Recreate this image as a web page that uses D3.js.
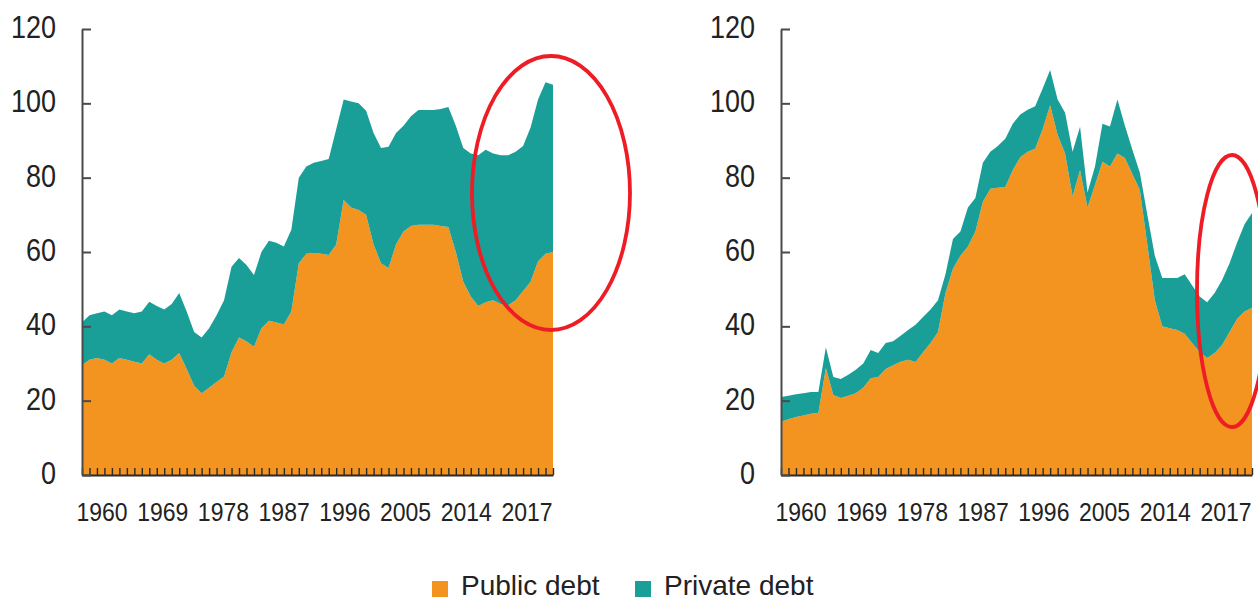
<!DOCTYPE html>
<html>
<head>
<meta charset="utf-8">
<script src="https://cdn.jsdelivr.net/npm/d3@7"></script>
<style>
  html, body { margin: 0; padding: 0; background: #fff; }
  svg { display: block; }
  text { font-family: "Liberation Sans", Arial, sans-serif; fill: #222; }
</style>
</head>
<body>
<svg id="chart" width="1258" height="601"></svg>
<script>
// ---- data ----
const years = d3.range(1957, 2021);

const leftPublic = [29.5,31,31.5,31,30,31.5,31,30.5,30,32.5,31,30,31,32.8,28.5,24,22,23.5,25,26.5,
  33,37,36,34.5,39.5,41.5,41,40.5,44,57,59.5,59.7,59.5,59.2,62,74,72,71.3,70,62,
  57,55.7,62,65.5,67,67.3,67.3,67.3,67,66.7,60,52,48,45.5,46.5,47,46,45.7,47,49.5,
  52,57.5,59.5,60];
const leftPrivate = [11.5,12,12,13,13,13,13,13,14,14.1,14.5,14.5,15,16.2,15.5,14.5,15,16,18,20.5,
  23,21.4,20.5,19.3,20.5,21.5,21.5,21,22,23,23.5,24.3,25,25.8,31,27,28.5,28.7,28,30,
  31,32.6,30,28.5,29.5,30.9,30.9,30.9,31.5,32.3,34,36,38.5,40.5,41,39.5,40,40.3,40,39,
  41.5,43.5,46.2,45];

const rightPublic = [14.3,15,15.6,16,16.5,16.7,28.8,21.5,20.7,21.3,22,23.5,26,26.4,28.5,29.5,30.5,31,30.4,33,
  35.5,38.5,49,55.5,59,61.5,65.5,73.5,77,77.3,77.5,82,85.5,87,87.8,93,99.5,91.5,86.5,75,
  82,72,78,84.3,83,86.5,85.3,81,76.7,62,47,40,39.5,39,38,35.5,33,31.5,32.8,35,
  38.5,42,44,45];
const rightPrivate = [6.7,6.3,6.1,6,5.8,5.6,5.6,4.9,5.1,5.7,6.3,6.5,7.6,6.4,7,6.5,7,8,10,9.5,
  9,8.5,5,8,6.5,10.5,9,10.5,10,11.2,13,12.5,11.5,11.3,11.4,11,9.5,9.5,11,12,
  11.7,4,5,10.2,10.8,14.5,8.7,6.5,4.6,8,12,13,13.5,14,16,15.5,15,15,16.2,17.5,
  18.5,20.5,23.5,25.5];

const seriesNames = ["Public debt", "Private debt"];
const seriesColors = ["#F39320", "#1A9E98"];
const xTickLabels = ["1960","1969","1978","1987","1996","2005","2014","2017"];
const yTicks = [0, 20, 40, 60, 80, 100, 120];

// ---- layout ----
const svg = d3.select("#chart");
const yTop = 29, yBottom = 475;
const panels = [
  { x0: 82, x1: 553, pub: leftPublic, priv: leftPrivate, ell: { cx: 551, cy: 193, rx: 79, ry: 137 } },
  { x0: 781, x1: 1252, pub: rightPublic, priv: rightPrivate, ell: { cx: 1232, cy: 291, rx: 35, ry: 136 } }
];

const y = d3.scaleLinear().domain([0, 120]).range([yBottom, yTop]);
const stretch = 1.15;

panels.forEach(p => {
  const g = svg.append("g");
  const x = d3.scaleLinear().domain([years[0], years[years.length - 1]]).range([p.x0, p.x1]);
  const rows = years.map((yr, i) => ({ year: yr, pub: p.pub[i], priv: p.priv[i] }));
  const stack = d3.stack().keys(["pub", "priv"])(rows);

  const area = d3.area()
    .x(d => x(d.data.year))
    .y0(d => y(d[0]))
    .y1(d => y(d[1]));

  g.selectAll("path.area").data(stack).join("path")
    .attr("class", "area")
    .attr("d", area)
    .attr("fill", (d, i) => seriesColors[i]);

  // x axis: baseline with small upward ticks at each year
  const xAxis = d3.axisBottom(x).tickValues(years).tickSizeInner(-7).tickSizeOuter(0).tickFormat("");
  const xa = g.append("g").attr("transform", `translate(0,${yBottom})`).call(xAxis);
  xa.select(".domain").attr("stroke", "#2a2a2a").attr("stroke-width", 2);
  xa.selectAll(".tick line").attr("stroke", "#2a2a2a").attr("stroke-width", 1.4);

  // y axis with inner ticks
  const yAxis = d3.axisLeft(y).tickValues(yTicks).tickSizeInner(-9).tickSizeOuter(0).tickFormat("");
  const ya = g.append("g").attr("transform", `translate(${p.x0},0)`).call(yAxis);
  ya.select(".domain").attr("stroke", "#4a4a4a").attr("stroke-width", 2);
  ya.selectAll(".tick line").attr("stroke", "#4a4a4a").attr("stroke-width", 2);

  // y labels
  g.selectAll("text.ylab").data(yTicks).join("text")
    .attr("class", "ylab")
    .attr("text-anchor", "end")
    .attr("transform", d => `translate(${p.x0 - 26},${y(d) + 9}) scale(1,${stretch})`)
    .style("font-size", "27px")
    .text(d => d);

  // x labels (evenly spaced category labels)
  const xl = d3.scalePoint().domain(xTickLabels).range([p.x0 + 20, p.x1 - 26]);
  g.selectAll("text.xlab").data(xTickLabels).join("text")
    .attr("class", "xlab")
    .attr("text-anchor", "middle")
    .attr("transform", d => `translate(${xl(d)},${yBottom + 46}) scale(1,${stretch})`)
    .style("font-size", "23px")
    .text(d => d);

  // red highlight ellipse
  g.append("ellipse")
    .attr("cx", p.ell.cx).attr("cy", p.ell.cy)
    .attr("rx", p.ell.rx).attr("ry", p.ell.ry)
    .attr("fill", "none").attr("stroke", "#EE1C25").attr("stroke-width", 3.8);
});

// ---- legend ----
const legend = svg.append("g");
const legendX = [432, 635];
seriesNames.forEach((name, i) => {
  legend.append("rect")
    .attr("x", legendX[i]).attr("y", 581).attr("width", 16).attr("height", 16)
    .attr("fill", seriesColors[i]);
  legend.append("text")
    .attr("x", legendX[i] + 29).attr("y", 595)
    .style("font-size", "28px")
    .text(name);
});
</script>
</body>
</html>
